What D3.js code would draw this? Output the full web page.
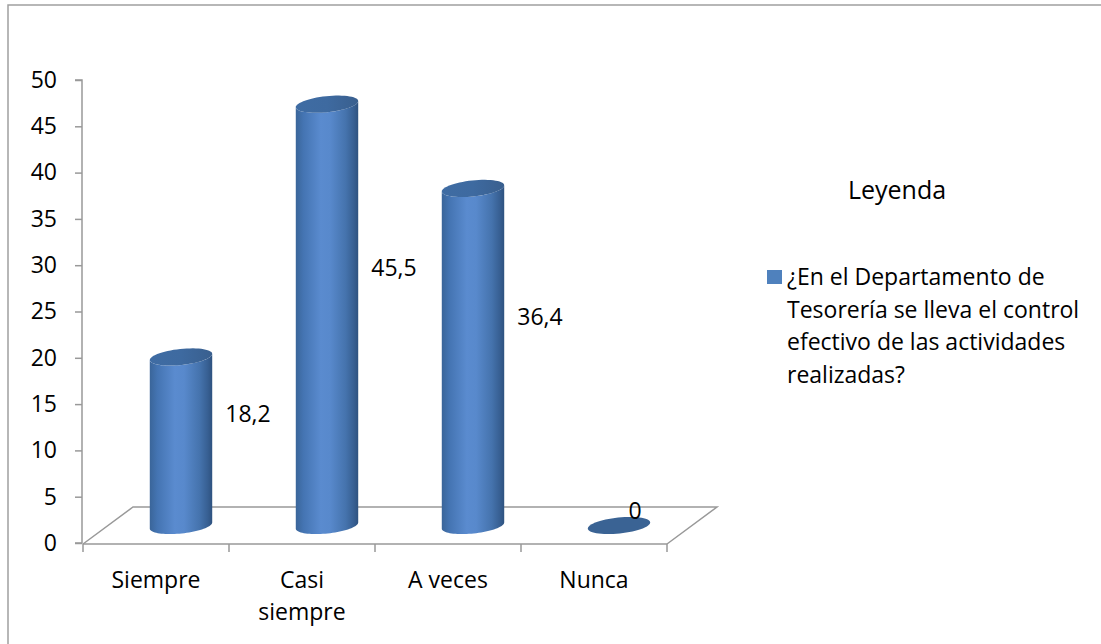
<!DOCTYPE html>
<html>
<head>
<meta charset="utf-8">
<script src="https://cdn.jsdelivr.net/npm/d3@7"></script>
<style>
  html, body { margin: 0; padding: 0; background: #fff; }
  svg { display: block; }
  text { font-family: "Open Sans", Lato, sans-serif; fill: #000; }
</style>
</head>
<body>
<svg id="chart" width="1101" height="644"></svg>
<script>
// Chart data
const categories = ["Siempre", "Casi siempre", "A veces", "Nunca"];
const categoryLines = [["Siempre"], ["Casi", "siempre"], ["A veces"], ["Nunca"]];
const values = [18.2, 45.5, 36.4, 0];
const valueLabels = ["18,2", "45,5", "36,4", "0"];
const yTicks = [0, 5, 10, 15, 20, 25, 30, 35, 40, 45, 50];
const legendTitle = "Leyenda";
const seriesName = ["¿En el Departamento de", "Tesorería se lleva el control", "efectivo de las actividades", "realizadas?"];

const FONT = "\"Open Sans\", Lato, sans-serif";
const FS = "23px";

const svg = d3.select("#chart");

// Outer frame (left and top edges)
svg.append("path")
  .attr("d", "M8,644 L8,5 L1101,5")
  .attr("fill", "none").attr("stroke", "#a0a0a0").attr("stroke-width", 1.5);

// Plot geometry: floor front edge and depth offset
const front = { left: 83, right: 667, y: 544 };
const depth = { dx: 50, dy: -37 };

const x = d3.scaleBand().domain(categories).range([front.left, front.right]).paddingInner(0).paddingOuter(0);
const y = d3.scaleLinear().domain([0, 50]).range([543, 80]);

const gridColor = "#999";

// Floor parallelogram
svg.append("path")
  .attr("d", `M${front.left},${front.y} L${front.left + depth.dx},${front.y + depth.dy} L${front.right + depth.dx},${front.y + depth.dy} L${front.right},${front.y}`)
  .attr("fill", "none").attr("stroke", gridColor).attr("stroke-width", 1.5);

// Value axis
const yAxis = d3.axisLeft(y).tickValues(yTicks).tickSize(7).tickPadding(18).tickFormat(d3.format("d"));
const gy = svg.append("g").attr("transform", `translate(${front.left - 1},0)`).call(yAxis);
gy.select(".domain").attr("stroke", gridColor).attr("stroke-width", 1.5).attr("d", `M-7,${y(50)}H0V${y(0)}H-7`);
gy.selectAll(".tick line").attr("stroke", gridColor).attr("stroke-width", 1.5);
gy.selectAll(".tick text").style("font-size", FS).style("font-family", FONT).attr("fill", "#000");

// Category axis along the floor front edge
svg.append("line")
  .attr("x1", front.left).attr("x2", front.right).attr("y1", front.y).attr("y2", front.y)
  .attr("stroke", gridColor).attr("stroke-width", 1.5);
const tickXs = categories.map(c => x(c)).concat([front.right]);
svg.selectAll(".ctick").data(tickXs).enter().append("line")
  .attr("x1", d => d).attr("x2", d => d).attr("y1", front.y).attr("y2", front.y + 8)
  .attr("stroke", gridColor).attr("stroke-width", 1.5);

const catLabels = svg.selectAll(".clabel").data(categories).enter().append("text")
  .attr("x", d => x(d) + x.bandwidth() / 2)
  .attr("y", 588)
  .attr("text-anchor", "middle")
  .style("font-size", FS);
catLabels.each(function(d, i) {
  const t = d3.select(this);
  categoryLines[i].forEach((line, k) => {
    t.append("tspan").attr("x", x(d) + x.bandwidth() / 2).attr("dy", k === 0 ? 0 : 32).text(line);
  });
});

// Cylinder shading
const defs = svg.append("defs");
const grad = defs.append("linearGradient").attr("id", "cyl").attr("x1", "0").attr("x2", "1").attr("y1", "0").attr("y2", "0");
[[0, "#3a6599"], [0.12, "#4474b2"], [0.4, "#5a8bcf"], [0.55, "#5889cc"], [0.8, "#4573ad"], [0.93, "#375f92"], [1, "#2e527f"]]
  .forEach(([o, c]) => grad.append("stop").attr("offset", o).attr("stop-color", c));
const topGrad = defs.append("linearGradient").attr("id", "cyltop").attr("x1", "0").attr("x2", "1").attr("y1", "0").attr("y2", "0");
[[0, "#3f6ca3"], [0.5, "#3e6aa0"], [1, "#395f8e"]]
  .forEach(([o, c]) => topGrad.append("stop").attr("offset", o).attr("stop-color", c));

const rx = x.bandwidth() * 0.215;
const ry = 8;
const theta = -6 * Math.PI / 180;
const baseY = front.y + depth.dy / 2;

function ellipsePt(cx, cy, t) {
  return [cx + rx * Math.cos(t) * Math.cos(theta) - ry * Math.sin(t) * Math.sin(theta),
          cy + rx * Math.cos(t) * Math.sin(theta) + ry * Math.sin(t) * Math.cos(theta)];
}
function arcPts(cx, cy, t0, t1, n) {
  const pts = [];
  for (let i = 0; i <= n; i++) pts.push(ellipsePt(cx, cy, t0 + (t1 - t0) * i / n));
  return pts;
}

const bars = svg.append("g");
values.forEach((v, i) => {
  const cx = x(categories[i]) + x.bandwidth() / 2 + depth.dx / 2;
  const h = y(0) - y(v);
  const topY = baseY - h;
  if (h > 0.5) {
    // body: bottom front half arc, then top back half arc reversed
    const bottom = arcPts(cx, baseY, 0, Math.PI, 40);
    const topBack = arcPts(cx, topY, Math.PI, 0, 40);
    bars.append("path")
      .attr("d", d3.line()(bottom.concat(topBack)) + "Z")
      .attr("fill", "url(#cyl)");
  }
  // cap
  bars.append("path")
    .attr("d", d3.line()(arcPts(cx, topY, 0, 2 * Math.PI, 60)) + "Z")
    .attr("fill", h > 0.5 ? "url(#cyltop)" : "#3a6394");

  // value label
  const lx = cx + (v > 0 ? 67 : 16);
  const ly = baseY - 7 - h * 0.575;
  svg.append("text")
    .attr("x", lx).attr("y", ly)
    .attr("text-anchor", "middle")
    .style("font-size", FS)
    .text(valueLabels[i]);
});

// Legend
svg.append("text")
  .attr("x", 897).attr("y", 199)
  .attr("text-anchor", "middle")
  .style("font-size", "25px")
  .text(legendTitle);
svg.append("rect")
  .attr("x", 767).attr("y", 270).attr("width", 15).attr("height", 14)
  .attr("fill", "#4f81bd");
const lt = svg.append("text").attr("x", 787).attr("y", 285).style("font-size", FS);
seriesName.forEach((line, k) => {
  lt.append("tspan").attr("x", 787).attr("dy", k === 0 ? 0 : 32.5).text(line);
});
</script>
</body>
</html>
